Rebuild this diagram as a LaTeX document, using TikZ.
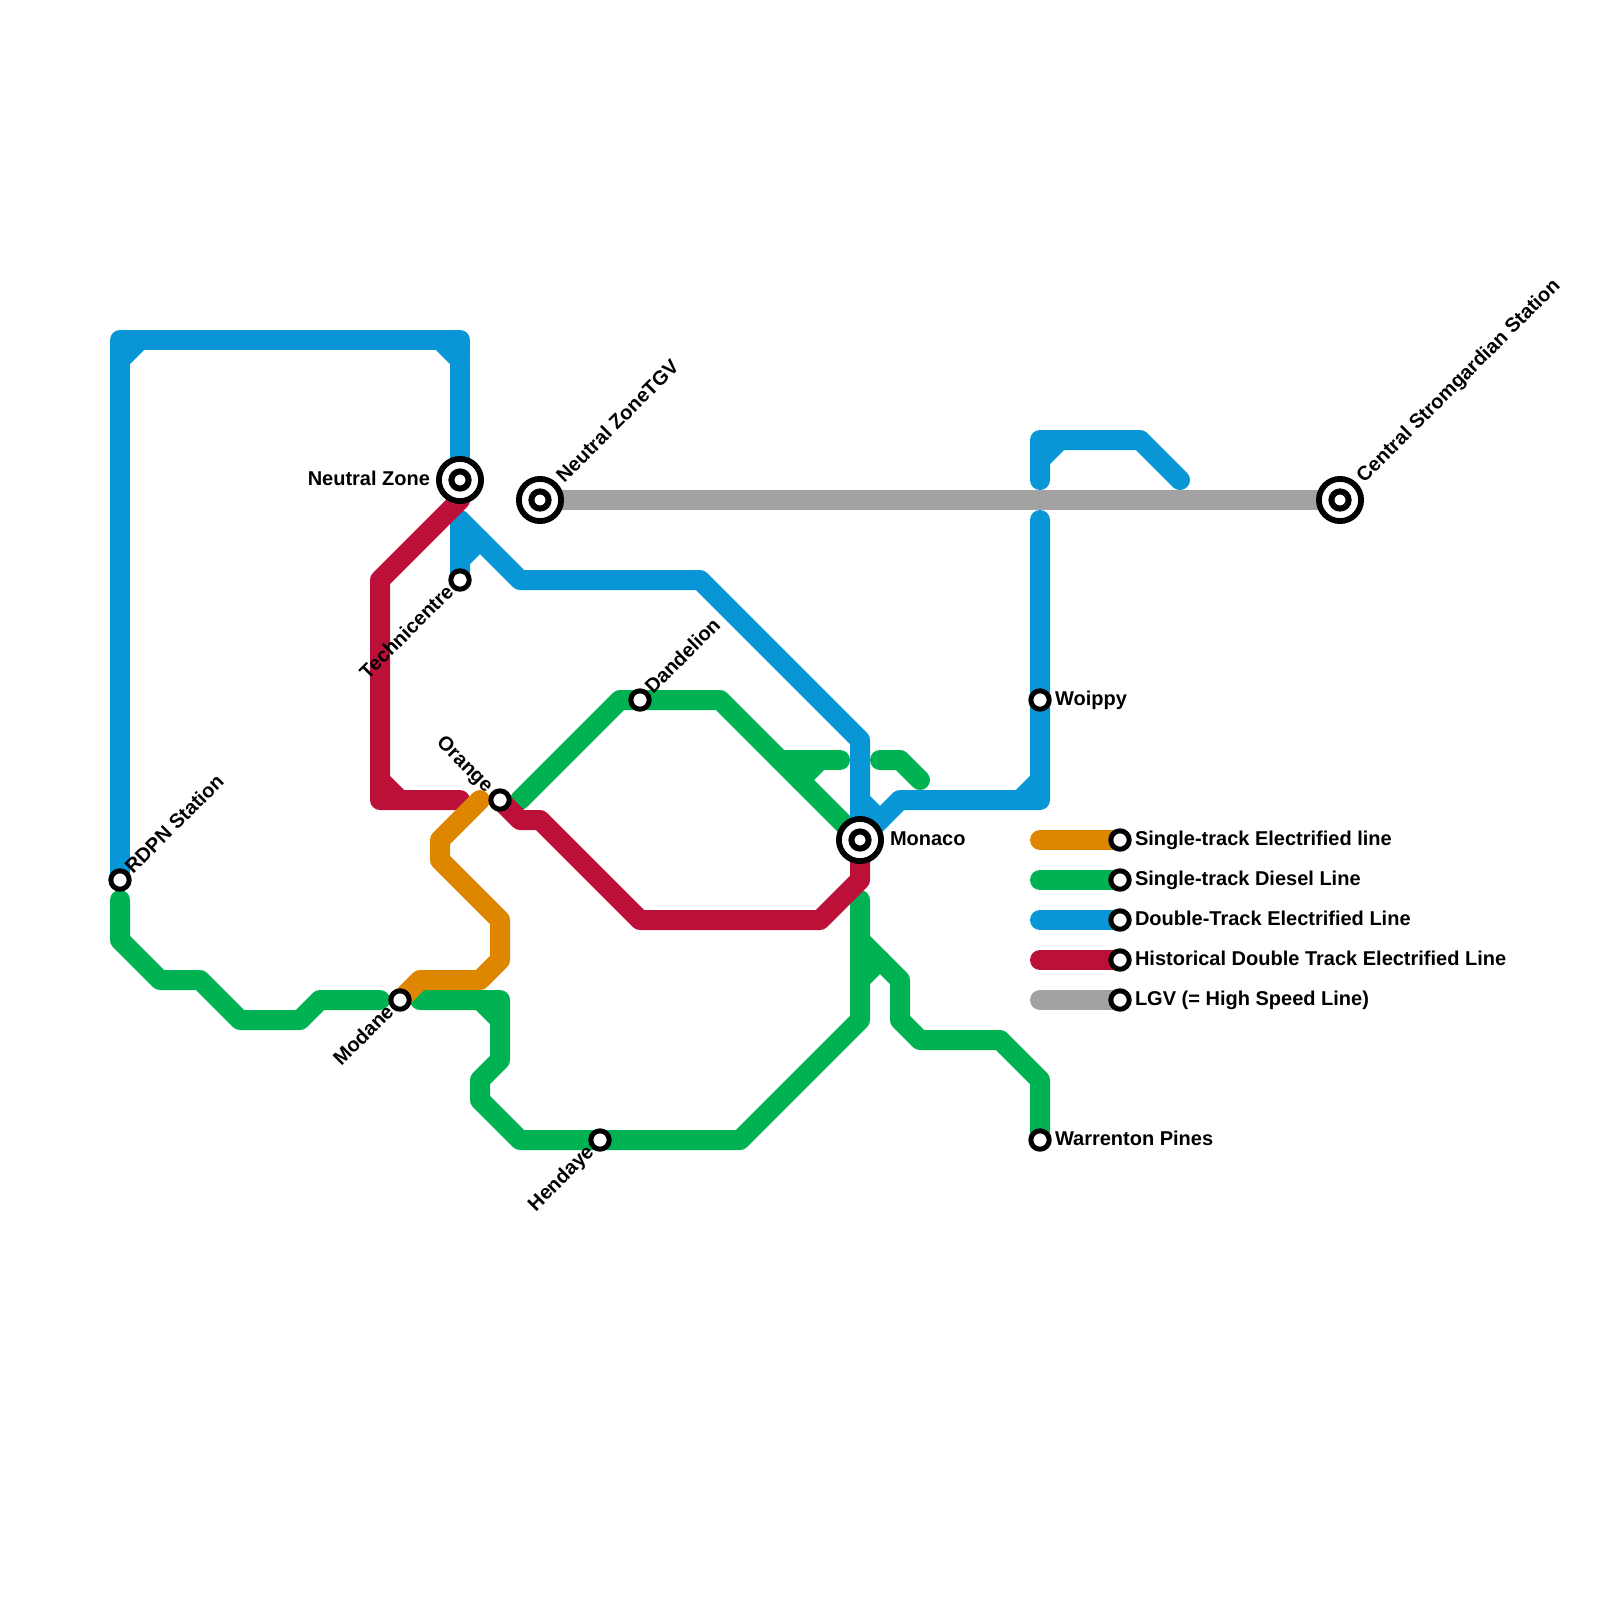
\documentclass[tikz,border=0pt]{standalone}
\usepackage{fontspec}
\setmainfont{Liberation Sans}
\definecolor{lineorange}{HTML}{DF8600}
\definecolor{linegreen}{HTML}{00B251}
\definecolor{lineblue}{HTML}{0896D7}
\definecolor{linered}{HTML}{BD1038}
\definecolor{linegrey}{HTML}{A2A2A2}
\tikzset{
	station/.style={circle,draw=black,fill=white,line width=2.5pt,minimum size=9.2pt,inner sep=0pt,outer sep=0pt},
	interchange/.style={circle,draw=black,fill=white,line width=2.9pt,minimum size=21.1pt,inner sep=0pt,outer sep=0pt},
	hubcore/.style={circle,draw=black,fill=white,line width=3pt,minimum size=8.6pt,inner sep=0pt,outer sep=0pt},
	stationtext/.style={font=\bfseries\fontsize{10}{12}\selectfont,inner sep=0pt,outer sep=0pt},
	textright/.style={stationtext,anchor=base west,xshift=#1,yshift=-2.6pt},
	textleft/.style={stationtext,anchor=base east,xshift=-#1,yshift=-2.6pt},
	textup/.style={stationtext,rotate=45,anchor=base west,xshift=#1,yshift=-2.8pt},
	textdown/.style={stationtext,rotate=45,anchor=base east,xshift=-#1,yshift=-2.8pt},
}
\begin{document}
\begin{tikzpicture}[x=10pt,y=-10pt,line width=10pt,line join=round,line cap=round]
	\useasboundingbox (0,0) rectangle (80,80);
	\coordinate (Rdpn) at (6,44);
	\coordinate (NeutralZone) at (23,24);
	\coordinate (NeutralTgv) at (27,25);
	\coordinate (Central) at (67,25);
	\coordinate (Techni) at (23,29);
	\coordinate (Dandelion) at (32,35);
	\coordinate (Orange) at (25,40);
	\coordinate (Monaco) at (43,42);
	\coordinate (Woippy) at (52,35);
	\coordinate (Modane) at (20,50);
	\coordinate (Hendaye) at (30,57);
	\coordinate (Warrenton) at (52,57);
	\coordinate (LegA) at (56,42);
	\coordinate (LegB) at (56,44);
	\coordinate (LegC) at (56,46);
	\coordinate (LegD) at (56,48);
	\coordinate (LegE) at (56,50);
	
	% green
	\draw[linegreen] (6,45) -- (6,47) -- (8,49) -- (10,49) -- (12,51) -- (15,51) -- (16,50) -- (19,50);
	\draw[linegreen] (21,50) -- (25,50) -- (25,53) -- (24,54) -- (24,55) -- (26,57) -- (37,57) -- (43,51) -- (43,45);
	\draw[linegreen] (24,50) -- (25,51);
	\draw[linegreen] (43,47) -- (45,49) -- (45,51) -- (46,52) -- (50,52) -- (52,54) -- (Warrenton);
	\draw[linegreen] (43,49) -- (44,48);
	\draw[linegreen] (26,40) -- (31,35) -- (36,35) -- (Monaco);
	\draw[linegreen] (39,38) -- (42,38);
	\draw[linegreen] (40,39) -- (41,38);
	\draw[linegreen] (44,38) -- (45,38) -- (46,39);
	\draw[linegreen] (LegB) -- (52,44);
	
	% blue
	\draw[lineblue] (Rdpn) -- (6,17) -- (23,17) -- (NeutralZone);
	\draw[lineblue] (6,18) -- (7,17);
	\draw[lineblue] (22,17) -- (23,18);
	\draw[lineblue] (Techni) -- (23,26) -- (26,29) -- (35,29) -- (43,37) -- (Monaco);
	\draw[lineblue] (23,28) -- (24,27);
	\draw[lineblue] (Monaco) -- (45,40) -- (52,40) -- (52,26);
	\draw[lineblue] (43,40) -- (44,41);
	\draw[lineblue] (51,40) -- (52,39);
	\draw[lineblue] (52,24) -- (52,22) -- (57,22) -- (59,24);
	\draw[lineblue] (52,23) -- (53,22);
	\draw[lineblue] (LegC) -- (52,46);
	
	% red
	\draw[linered] (23,25) -- (19,29) -- (19,40) -- (23,40);
	\draw[linered] (19,39) -- (20,40);
	\draw[linered] (Orange) -- (26,41) -- (27,41) -- (32,46) -- (41,46) -- (43,44) -- (Monaco);
	\draw[linered] (LegD) -- (52,48);
	
	% grey
	\draw[linegrey] (NeutralTgv) -- (Central);
	\draw[linegrey] (LegE) -- (52,50);
	
	% orange
	\draw[lineorange] (Modane) -- (21,49) -- (24,49) -- (25,48) -- (25,46) -- (22,43) -- (22,42) -- (24,40);
	\draw[lineorange] (LegA) -- (52,42);
	
	% stations
	\node[station] (stRdpn) at (Rdpn) {};
	\node[interchange] (hubNeutralZone) at (NeutralZone) {};
	\node[hubcore] (stNeutralZone) at (NeutralZone) {};
	\node[interchange] (hubNeutralTgv) at (NeutralTgv) {};
	\node[hubcore] (stNeutralTgv) at (NeutralTgv) {};
	\node[interchange] (hubCentral) at (Central) {};
	\node[hubcore] (stCentral) at (Central) {};
	\node[interchange] (hubMonaco) at (Monaco) {};
	\node[hubcore] (stMonaco) at (Monaco) {};
	\node[station] (stTechni) at (Techni) {};
	\node[station] (stDandelion) at (Dandelion) {};
	\node[station] (stOrange) at (Orange) {};
	\node[station] (stWoippy) at (Woippy) {};
	\node[station] (stModane) at (Modane) {};
	\node[station] (stHendaye) at (Hendaye) {};
	\node[station] (stWarrenton) at (Warrenton) {};
	\node[station] (stLegA) at (LegA) {};
	\node[station] (stLegB) at (LegB) {};
	\node[station] (stLegC) at (LegC) {};
	\node[station] (stLegD) at (LegD) {};
	\node[station] (stLegE) at (LegE) {};
	
	% labels
	\node[textup=6.5pt] (tRdpn) at (Rdpn) {RDPN Station};
	\node[textleft=15pt] (tNeutralZone) at (NeutralZone) {Neutral Zone};
	\node[textup=14.5pt] (tNeutralTgv) at (NeutralTgv) {Neutral ZoneTGV};
	\node[textup=14.5pt] (tCentral) at (Central) {Central Stromgardian Station};
	\node[textright=15pt] (tMonaco) at (Monaco) {Monaco};
	\node[textdown=6.5pt] (tTechni) at (Techni) {Technicentre};
	\node[textup=6.5pt] (tDandelion) at (Dandelion) {Dandelion};
	\node[stationtext,rotate=-45,anchor=base east,xshift=-7.5pt,yshift=-2.8pt] (tOrange) at (Orange) {Orange};
	\node[textright=7.5pt] (tWoippy) at (Woippy) {Woippy};
	\node[textdown=6.5pt] (tModane) at (Modane) {Modane};
	\node[textdown=6.5pt] (tHendaye) at (Hendaye) {Hendaye};
	\node[textright=7.5pt] (tWarrenton) at (Warrenton) {Warrenton Pines};
	\node[textright=7.5pt] (tLegA) at (LegA) {Single-track Electrified line};
	\node[textright=7.5pt] (tLegB) at (LegB) {Single-track Diesel Line};
	\node[textright=7.5pt] (tLegC) at (LegC) {Double-Track Electrified Line};
	\node[textright=7.5pt] (tLegD) at (LegD) {Historical Double Track Electrified Line};
	\node[textright=7.5pt] (tLegE) at (LegE) {LGV (= High Speed Line)};
\end{tikzpicture}
\end{document}
